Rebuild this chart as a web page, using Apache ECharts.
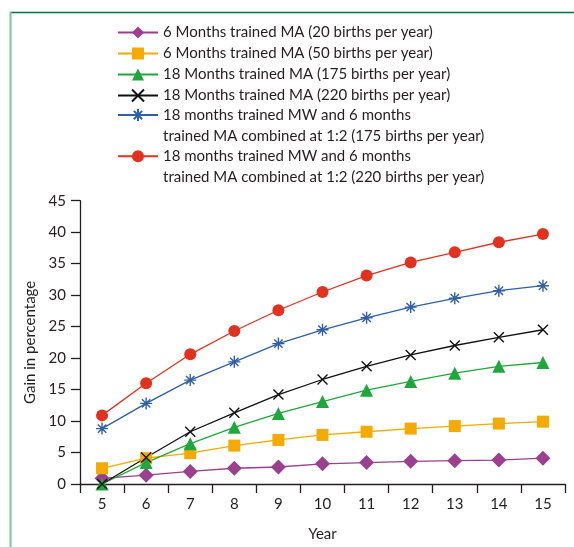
<!DOCTYPE html>
<html>
<head>
<meta charset="utf-8">
<script src="https://cdn.jsdelivr.net/npm/echarts@6/dist/echarts.min.js"></script>
<style>
html,body{margin:0;padding:0;background:#fff;}
#chart{width:574px;height:547px;}
</style>
</head>
<body>
<div id="chart"></div>
<script>
// ---- data ----
var years = ['5','6','7','8','9','10','11','12','13','14','15'];
var seriesNames = [
  '6 Months trained MA (20 births per year)',
  '6 Months trained MA (50 births per year)',
  '18 Months trained MA (175 births per year)',
  '18 Months trained MA (220 births per year)',
  '18 months trained MW and 6 months\ntrained MA combined at 1:2 (175 births per year)',
  '18 months trained MW and 6 months\ntrained MA combined at 1:2 (220 births per year)'
];
var ma6_20   = [0.9, 1.4, 2.0, 2.5, 2.7, 3.2, 3.4, 3.6, 3.7, 3.8, 4.1];
var ma6_50   = [2.5, 4.1, 4.9, 6.1, 7.0, 7.8, 8.3, 8.8, 9.2, 9.6, 9.9];
var ma18_175 = [0.0, 3.4, 6.4, 9.0, 11.2, 13.1, 14.9, 16.3, 17.6, 18.7, 19.3];
var ma18_220 = [0.0, 4.2, 8.3, 11.3, 14.2, 16.6, 18.7, 20.5, 22.0, 23.3, 24.5];
var mw_175   = [8.8, 12.8, 16.5, 19.4, 22.3, 24.5, 26.4, 28.1, 29.5, 30.7, 31.5];
var mw_220   = [10.9, 16.0, 20.6, 24.3, 27.6, 30.5, 33.1, 35.2, 36.8, 38.4, 39.7];
var yTicks = { min: 0, max: 45, interval: 5 };

// ---- styles ----
var colors = ['#9c3f8e', '#f4aa00', '#1ea83c', '#111111', '#2f5fa7', '#e2321f'];
var xPath = 'path://M0,0L10,10M10,0L0,10';
var starPath = 'path://M5,0L5,10M0,5L10,5M1.5,1.5L8.5,8.5M8.5,1.5L1.5,8.5';
var symbols = ['diamond', 'rect', 'triangle', xPath, starPath, 'circle'];
var symbolSizes = [15, 12, 13, 10, 12, 12];
var borderWidths = [0, 0, 0, 1.4, 1.4, 0];
var dataSets = [ma6_20, ma6_50, ma18_175, ma18_220, mw_175, mw_220];

var textColor = '#231f20';
var fontFamily = 'Lato, "Open Sans", sans-serif';
var fs = 15;

var series = dataSets.map(function (d, i) {
  return {
    name: seriesNames[i],
    type: 'line',
    data: d,
    symbol: symbols[i],
    symbolSize: symbolSizes[i],
    showAllSymbol: true,
    lineStyle: { width: 1.3, color: colors[i] },
    itemStyle: { color: colors[i], borderColor: colors[i], borderWidth: borderWidths[i] },
    emphasis: { disabled: true },
    animation: false
  };
});

var chart = echarts.init(document.getElementById('chart'), null, { renderer: 'canvas' });
chart.setOption({
  backgroundColor: '#ffffff',
  animation: false,
  textStyle: { fontFamily: fontFamily, color: textColor },
  graphic: [
    { type: 'line', shape: { x1: 10, y1: 12.5, x2: 574, y2: 12.5 }, style: { stroke: '#00733c', lineWidth: 1.6 }, silent: true },
    { type: 'line', shape: { x1: 10.5, y1: 12, x2: 10.5, y2: 547 }, style: { stroke: '#7fc2a0', lineWidth: 2 }, silent: true }
  ],
  legend: [
    {
      data: seriesNames.slice(0, 4),
      orient: 'vertical',
      left: 117,
      top: 22,
      padding: 0,
      itemGap: 0,
      itemWidth: 40,
      itemHeight: 15,
      textStyle: { fontFamily: fontFamily, fontSize: fs, color: textColor, lineHeight: 21 }
    },
    {
      data: seriesNames.slice(4, 6),
      orient: 'vertical',
      left: 117,
      top: 84,
      padding: 0,
      itemGap: -21,
      itemWidth: 40,
      itemHeight: 15,
      formatter: function (name) { return '\n' + name; },
      textStyle: { fontFamily: fontFamily, fontSize: fs, color: textColor, lineHeight: 20.7 }
    }
  ],
  grid: { left: 80, right: 9, top: 200.7, bottom: 62, containLabel: false },
  xAxis: {
    type: 'category',
    data: years,
    boundaryGap: true,
    name: 'Year',
    nameLocation: 'middle',
    nameGap: 43,
    nameTextStyle: { fontSize: fs, color: textColor, fontFamily: fontFamily },
    axisLine: { lineStyle: { color: '#231f20', width: 1.3 } },
    axisTick: { show: true, length: 9, alignWithLabel: false, lineStyle: { color: '#231f20', width: 1.3 } },
    axisLabel: { fontSize: fs, color: textColor, margin: 13, fontFamily: fontFamily },
    splitLine: { show: false }
  },
  yAxis: {
    type: 'value',
    min: yTicks.min,
    max: yTicks.max,
    interval: yTicks.interval,
    name: 'Gain in percentage',
    nameLocation: 'middle',
    nameGap: 35,
    nameTextStyle: { fontSize: fs, color: textColor, fontFamily: fontFamily },
    axisLine: { show: true, lineStyle: { color: '#231f20', width: 1.3 } },
    axisTick: { show: true, length: 9, lineStyle: { color: '#231f20', width: 1.3 } },
    axisLabel: { fontSize: fs, color: textColor, margin: 14, fontFamily: fontFamily },
    splitLine: { show: false }
  },
  series: series
});
</script>
</body>
</html>
